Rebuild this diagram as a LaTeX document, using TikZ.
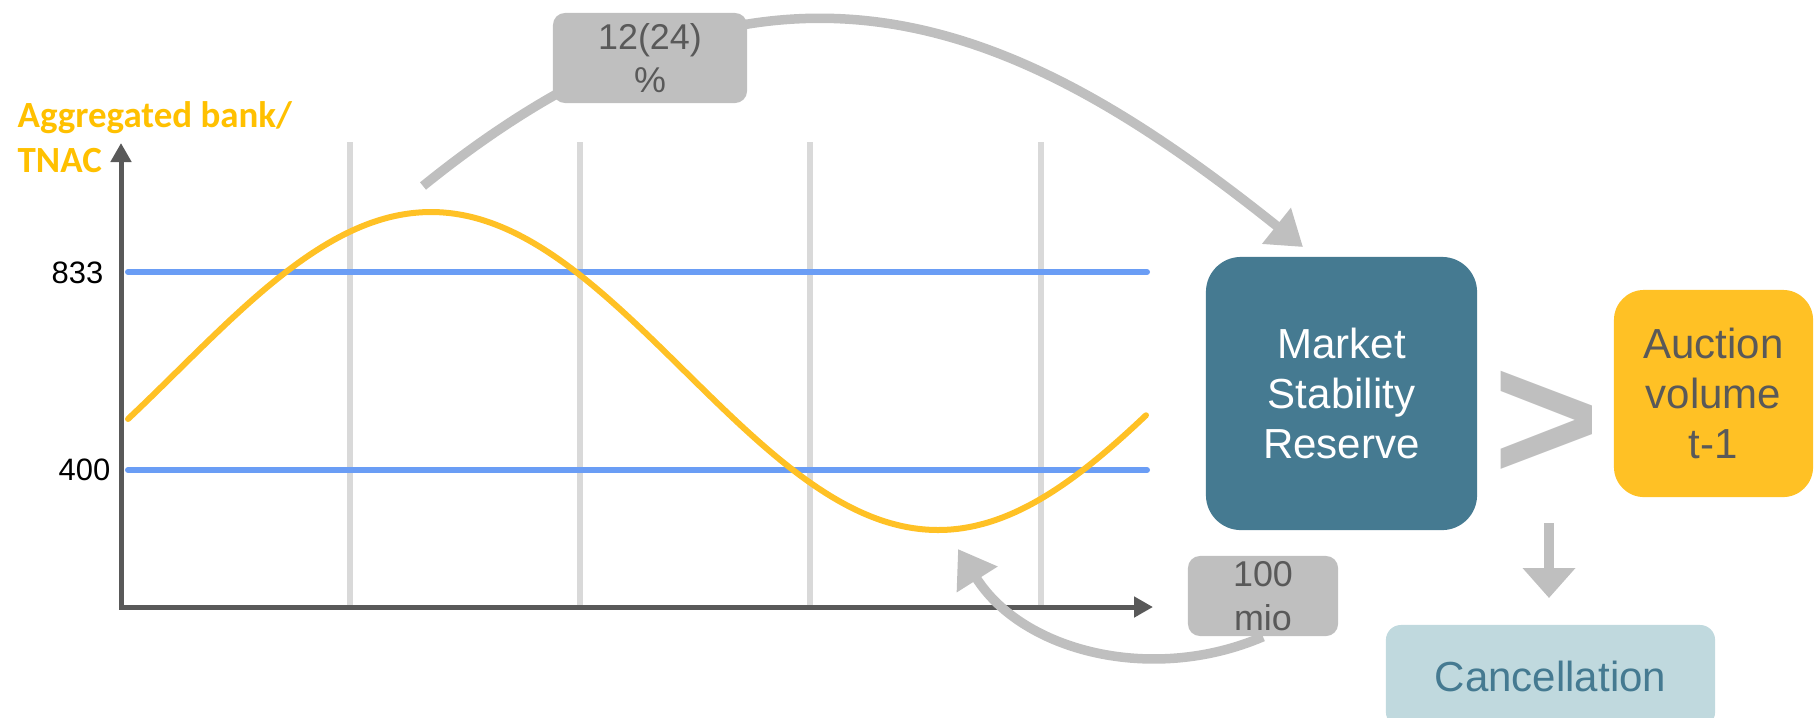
\documentclass[tikz,border=0pt]{standalone}
\usepackage{fontspec}
\setmainfont{Liberation Sans}
\newfontfamily\carlitofont{Carlito}
\usetikzlibrary{arrows.meta,backgrounds}
\definecolor{msrblue}{HTML}{457A91}
\definecolor{auctionyellow}{HTML}{FFC125}
\definecolor{curveyellow}{HTML}{FFC125}
\definecolor{labelyellow}{HTML}{FFC000}
\definecolor{cancelfill}{HTML}{C0D9DE}
\definecolor{levelblue}{HTML}{6A9DF5}
\definecolor{gridgray}{HTML}{D9D9D9}
\definecolor{axisgray}{HTML}{595959}
\definecolor{arrowgray}{HTML}{BFBFBF}
\definecolor{textgray}{HTML}{595959}
\begin{document}
\begin{tikzpicture}[x=0.01cm,y=-0.01cm,
  gridline/.style={draw=gridgray,line width=0.6mm},
  levelline/.style={draw=levelblue,line width=0.6mm,line cap=round},
  axisline/.style={draw=axisgray,line width=0.5mm,line join=miter,
     {Triangle[length=1.9mm,width=2mm]}-{Triangle[length=1.9mm,width=2mm]}},
  tnaccurve/.style={draw=curveyellow,line width=0.6mm,line cap=round},
  grayarrow/.style={draw=arrowgray,line width=0.95mm},
  bigbox/.style={rounded corners=3.5mm,inner sep=0pt,align=center,
     font=\fontsize{11.95}{14.2}\selectfont},
  smallbox/.style={fill=arrowgray,rounded corners=1.2mm,inner sep=0pt,align=center,
     text=textgray,font=\fontsize{10.2}{12.4}\selectfont},
  ticklabel/.style={inner sep=0pt,anchor=east,text=black,font=\fontsize{8.8}{10}\selectfont}
]
\useasboundingbox (0,0) rectangle (1815,717);
\clip (0,0) rectangle (1815,717);

% grid lines
\foreach \gx in {350,580,810,1041}
  \draw[gridline] (\gx,142) -- (\gx,607);

% level lines
\draw[levelline] (128,272) -- (1147,272);
\draw[levelline] (128,470) -- (1147,470);

% axes
\coordinate (ytip) at (121,143);
\coordinate (origin) at (121,607);
\coordinate (xtip) at (1153,607);
\draw[axisline] (ytip) -- (origin) -- (xtip);

% TNAC curve
\draw[tnaccurve] plot[domain=128:1146,samples=150,smooth] (\x,{371-159*cos((\x-431)*0.35503)});

% labels
\node[ticklabel] (l833) at (104,273) {833};
\node[ticklabel] (l400) at (111,470) {400};
\node[inner sep=0pt,anchor=west,align=left,text=labelyellow,
      font=\carlitofont\bfseries\fontsize{10.5}{12.8}\selectfont] (tnac) at (17,137)
      {Aggregated bank/\\TNAC};

% boxes
\node[smallbox,minimum width=1.94cm,minimum height=0.90cm] (pct) at (650,58) {12(24)\\\%};
\node[smallbox,minimum width=1.50cm,minimum height=0.80cm] (mio) at (1263,596) {100\\mio};
\node[bigbox,fill=msrblue,text=white,minimum width=2.71cm,minimum height=2.73cm] (msr) at (1341.5,393.5)
  {Market\\Stability\\Reserve};
\node[bigbox,fill=auctionyellow,text=textgray,minimum width=1.99cm,minimum height=2.07cm,
  rounded corners=3mm] (auction) at (1713.5,393.5) {Auction\\volume\\t-1};
\node[bigbox,fill=cancelfill,text=msrblue,minimum width=3.29cm,minimum height=1.02cm,
  rounded corners=1.5mm] (cancel) at (1550.5,676) {Cancellation};
\node[inner sep=0pt,anchor=base,text=arrowgray,font=\bfseries\fontsize{51.8}{60}\selectfont] (gt) at (1547,480) {>};

% arrows
\coordinate (arcstart) at (423,186);
\coordinate (arcend) at (1303,247);
\begin{pgfonlayer}{background}
\draw[grayarrow,-{Triangle[length=3.4mm,width=4.4mm]}] (arcstart) .. controls (768,-93) and (1013,15) .. (arcend);
\end{pgfonlayer}
\coordinate (miotip) at (958,549);
\draw[grayarrow,-{Triangle[length=3.6mm,width=4.6mm]}] (mio.south) .. controls (1153,684) and (1023,652) .. (miotip);
\coordinate (dtop) at (1549,523);
\coordinate (dtip) at (1549,598);
\draw[draw=arrowgray,line width=1mm,-{Triangle[length=3mm,width=5.1mm]}] (dtop) -- (dtip);
\end{tikzpicture}
\end{document}
